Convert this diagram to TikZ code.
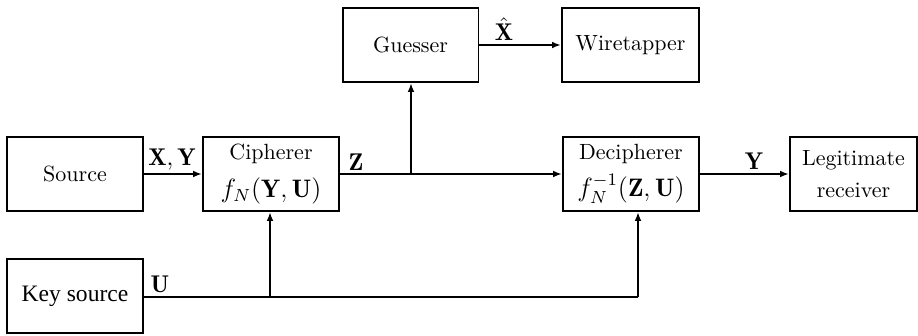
\documentclass[tikz,border=0pt]{standalone}
\usepackage{fontspec}
\usepackage{amsmath}
\newfontfamily\keyfont{Liberation Serif}
\usetikzlibrary{arrows.meta}
\newcommand\bigmath[1]{{\fontsize{11.5pt}{14pt}\selectfont$#1$}}
\begin{document}
\begin{tikzpicture}[x=0.4545pt,y=-0.4545pt,
  blk/.style={draw,line width=0.9pt,minimum width=61.8pt,minimum height=33.6pt,inner sep=1pt,align=center},
  conn/.style={line width=0.9pt},
  arr/.style={conn,-{Latex[length=4pt,width=3pt]}},
  lbl/.style={inner sep=1pt,font=\fontsize{11pt}{13pt}\selectfont}]
\useasboundingbox (0,0) rectangle (918,335);
% blocks
\node[blk] (src) at (75,174) {Source};
\node[blk] (ciph) at (271,174) {Cipherer\\[5pt]\bigmath{f_N(\mathbf{Y},\mathbf{U})}};
\node[blk] (guess) at (410.5,45) {Guesser};
\node[blk,minimum width=62.3pt] (wire) at (630.5,45) {Wiretapper};
\node[blk] (deciph) at (631,174) {Decipherer\\[4pt]\bigmath{f_N^{-1}(\mathbf{Z},\mathbf{U})}};
\node[blk,minimum width=57.7pt] (recv) at (853.5,174) {Legitimate\\[2.5pt]receiver};
\node[blk] (key) at (75,296) {\keyfont\fontsize{10.7pt}{13pt}\selectfont Key source};
% junction points
\coordinate (zb) at (411,174);
\coordinate (ua) at (270,297);
\coordinate (ub) at (638,297);
% connectors
\draw[arr] (src) -- (ciph);
\draw[arr] (ciph) -- (deciph);
\draw[arr] (zb) -- (zb |- guess.south);
\draw[arr] (guess) -- (wire);
\draw[arr] (deciph) -- (recv);
\draw[conn] (key.east |- ua) -- (ub);
\draw[arr] (ua) -- (ua |- ciph.south);
\draw[arr] (ub) -- (ub |- deciph.south);
% signal labels
\node[lbl] (lxy) at (172,160) {$\mathbf{X},\mathbf{Y}$};
\node[lbl] (lz) at (356,162) {$\mathbf{Z}$};
\node[lbl] (lxh) at (504,29) {$\hat{\mathbf{X}}$};
\node[lbl] (ly) at (754,161) {$\mathbf{Y}$};
\node[lbl] (lu) at (160,284) {$\mathbf{U}$};
\end{tikzpicture}
\end{document}
